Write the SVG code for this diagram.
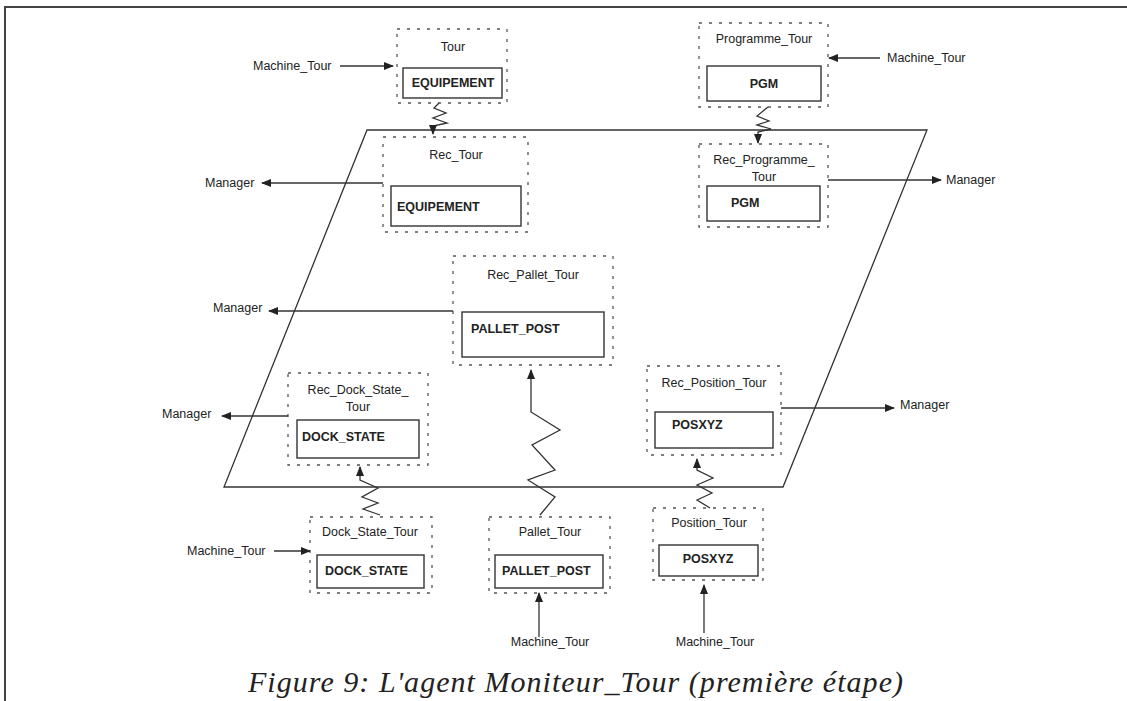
<svg xmlns="http://www.w3.org/2000/svg" width="1127" height="701" viewBox="0 0 1127 701">
<defs>
<marker id="ah" markerWidth="10" markerHeight="8" refX="9" refY="4" orient="auto" markerUnits="userSpaceOnUse">
<path d="M0,0 L10,4 L0,8 Z" fill="#222"/>
</marker>
<style>
.dash{fill:none;stroke:#555;stroke-width:1.3;stroke-dasharray:3 7}
.box{fill:none;stroke:#333;stroke-width:1.4}
.t{font-family:"Liberation Sans",Arial,sans-serif;font-size:12.5px;fill:#222}
.c{text-anchor:middle}
.b{font-weight:bold}
.ar{fill:none;stroke:#333;stroke-width:1.3;marker-end:url(#ah)}
</style>
</defs>
<rect width="1127" height="701" fill="#fff"/>
<path d="M5,701 L5,7 L1127,7" fill="none" stroke="#444" stroke-width="2"/>
<polygon id="plane" points="367,130 927,130 783,487 224,487" fill="none" stroke="#333" stroke-width="1.3"/>

<g id="tour">
<rect class="dash" x="397" y="29" width="110" height="74"/>
<text class="t c" x="453" y="51">Tour</text>
<rect class="box" x="403" y="68" width="99" height="30"/>
<text class="t c b" x="453" y="87">EQUIPEMENT</text>
</g>
<g id="programme_tour">
<rect class="dash" x="699" y="23" width="129" height="84"/>
<text class="t c" x="764" y="43">Programme_Tour</text>
<rect class="box" x="707" y="66" width="114" height="35"/>
<text class="t c b" x="764" y="88">PGM</text>
</g>
<g id="rec_tour">
<rect class="dash" x="383" y="137" width="145" height="95"/>
<text class="t c" x="456" y="159">Rec_Tour</text>
<rect class="box" x="391" y="186" width="130" height="40"/>
<text class="t b" x="397" y="211">EQUIPEMENT</text>
</g>
<g id="rec_programme_tour">
<rect class="dash" x="699" y="144" width="129" height="83"/>
<text class="t c" x="764" y="164">Rec_Programme_</text>
<text class="t c" x="764" y="181">Tour</text>
<rect class="box" x="707" y="186" width="113" height="35"/>
<text class="t b" x="731" y="207">PGM</text>
</g>
<g id="rec_pallet_tour">
<rect class="dash" x="453" y="256" width="160" height="109"/>
<text class="t c" x="533" y="279">Rec_Pallet_Tour</text>
<rect class="box" x="462" y="312" width="142" height="45"/>
<text class="t b" x="471" y="333">PALLET_POST</text>
</g>
<g id="rec_dock_state_tour">
<rect class="dash" x="288" y="373" width="140" height="92"/>
<text class="t c" x="358" y="394">Rec_Dock_State_</text>
<text class="t c" x="358" y="411">Tour</text>
<rect class="box" x="297" y="420" width="122" height="38"/>
<text class="t b" x="302" y="441">DOCK_STATE</text>
</g>
<g id="rec_position_tour">
<rect class="dash" x="647" y="366" width="134" height="89"/>
<text class="t c" x="714" y="387">Rec_Position_Tour</text>
<rect class="box" x="655" y="412" width="118" height="36"/>
<text class="t b" x="672" y="429">POSXYZ</text>
</g>
<g id="dock_state_tour">
<rect class="dash" x="310" y="517" width="122" height="76"/>
<text class="t c" x="370" y="536">Dock_State_Tour</text>
<rect class="box" x="317" y="555" width="107" height="33"/>
<text class="t b" x="325" y="575">DOCK_STATE</text>
</g>
<g id="pallet_tour">
<rect class="dash" x="489" y="517" width="121" height="76"/>
<text class="t c" x="550" y="536">Pallet_Tour</text>
<rect class="box" x="495" y="555" width="108" height="33"/>
<text class="t b" x="502" y="575">PALLET_POST</text>
</g>
<g id="position_tour">
<rect class="dash" x="653" y="508" width="110" height="72"/>
<text class="t c" x="709" y="527">Position_Tour</text>
<rect class="box" x="659" y="545" width="99" height="31"/>
<text class="t c b" x="708" y="563">POSXYZ</text>
</g>

<g id="labels">
<text class="t" x="253" y="70">Machine_Tour</text>
<text class="t" x="887" y="62">Machine_Tour</text>
<text class="t" x="205" y="187">Manager</text>
<text class="t" x="946" y="184">Manager</text>
<text class="t" x="213" y="312">Manager</text>
<text class="t" x="162" y="418">Manager</text>
<text class="t" x="900" y="409">Manager</text>
<text class="t" x="187" y="555">Machine_Tour</text>
<text class="t c" x="550" y="646">Machine_Tour</text>
<text class="t c" x="715" y="646">Machine_Tour</text>
</g>

<g id="connectors">
<line class="ar" x1="340" y1="66" x2="393" y2="66"/>
<line class="ar" x1="880" y1="58" x2="829" y2="58"/>
<line class="ar" x1="383" y1="183" x2="262" y2="183"/>
<line class="ar" x1="828" y1="180" x2="941" y2="180"/>
<line class="ar" x1="453" y1="311" x2="269" y2="311"/>
<line class="ar" x1="288" y1="416" x2="222" y2="416"/>
<line class="ar" x1="781" y1="408" x2="894" y2="408"/>
<line class="ar" x1="274" y1="551" x2="310" y2="551"/>
<line class="ar" x1="539" y1="637" x2="539" y2="593"/>
<line class="ar" x1="704" y1="633" x2="704" y2="585"/>
<path class="ar" d="M439,103 L434,108 L446,113 L433,118 L447,123 L433,126 L433,134"/>
<path class="ar" d="M768,107 L757,116 L769,121 L757,125 L771,129 L758,132 L758,143"/>
<path class="ar" d="M540,515 L555,497 L528,480 L555,470 L532,445 L560,430 L531,412 L531,370"/>
<path class="ar" d="M380,515 L363,509 L378,503 L362,497 L378,488 L360,480 L360,467"/>
<path class="ar" d="M710,508 L697,500 L712,493 L697,485 L713,478 L697,470 L697,459"/>
</g>

<text id="caption" x="248" y="692" font-family="Liberation Serif, serif" font-style="italic" font-size="30" fill="#222" textLength="655" lengthAdjust="spacing">Figure 9: L'agent Moniteur_Tour (première étape)</text>
</svg>
